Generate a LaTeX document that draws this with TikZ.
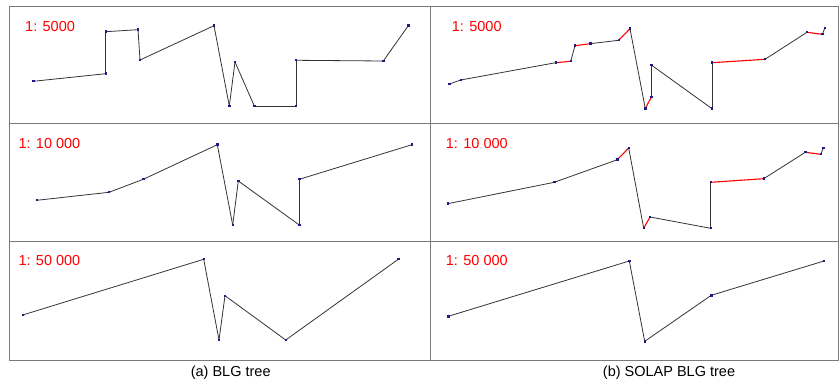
\documentclass[tikz,border=0pt]{standalone}
\usepackage{fontspec}
\setmainfont{Liberation Sans}
\usetikzlibrary{backgrounds}
\definecolor{cframe}{HTML}{7A7A7A}
\definecolor{cline}{HTML}{333333}
\definecolor{cred}{HTML}{FF0000}
\definecolor{cnavy}{HTML}{1A1A8C}
\tikzset{
  every picture/.style={x=1pt, y=-1pt},
  frame/.style={draw=cframe, line width=1pt},
  vtx/.style={rectangle, fill=cnavy, inner sep=0pt, minimum size=2.4pt},
  seg/.style={draw=cline, line width=0.8pt},
  redseg/.style={draw=cred, line width=1.1pt},
  scale label/.style={font=\fontsize{14.5}{16}\selectfont, text=cred, anchor=west, inner sep=0pt},
  caption/.style={font=\fontsize{14.5}{16}\selectfont, inner sep=0pt},
}

\begin{document}
\begin{tikzpicture}
  \useasboundingbox (0,0) rectangle (840,387);
  % grid of panels
  \draw[frame] (9,7) rectangle (838,360);
  \draw[frame] (430,7) -- (430,360);
  \draw[frame] (9,124) -- (838,124);
  \draw[frame] (9,242) -- (838,242);
  % (a) 1: 5000
  \node[scale label] (la1) at (25,27) {1: 5000};
  \foreach \k/\x/\y in {1/33.3/81.3, 2/105.7/73.7, 3/105.7/31.7, 4/138/29.7, 5/140/60, 6/214/25.7, 7/229.3/106, 8/235/62, 9/254.3/106, 10/296/106, 11/296/60.3, 12/383.3/61, 13/408.3/25.7} \node[vtx] (a1-\k) at (\x,\y) {};
  \begin{scope}[on background layer]
    \foreach \k [evaluate=\k as \n using int(\k+1)] in {1,...,12} \draw[seg] (a1-\k.center) -- (a1-\n.center);
  \end{scope}
  % (b) 1: 5000
  \node[scale label] (lb1) at (451.7,27) {1: 5000};
  \foreach \k/\x/\y in {1/449.3/84, 2/460.7/80, 3/555.7/62.7, 4/570.7/61.3, 5/575/45.7, 6/590.3/43.7, 7/618.7/40.3, 8/630/28.7, 9/645.3/108.7, 10/651.3/97, 11/651.3/65, 12/712/108.7, 13/712/62.7, 14/765/59.3, 15/807/32.3, 16/822.3/34.3, 17/824.7/28.3} \node[vtx] (b1-\k) at (\x,\y) {};
  \begin{scope}[on background layer]
    \foreach \k/\s [evaluate=\k as \n using int(\k+1)] in {1/seg, 2/seg, 3/redseg, 4/seg, 5/redseg, 6/seg, 7/redseg, 8/seg, 9/redseg, 10/seg, 11/seg, 12/seg, 13/redseg, 14/seg, 15/redseg, 16/seg} \draw[\s] (b1-\k.center) -- (b1-\n.center);
  \end{scope}
  % (a) 1: 10 000
  \node[scale label] (la2) at (18.3,143.3) {1: 10 000};
  \foreach \k/\x/\y in {1/36.7/200.3, 2/109/192.3, 3/143.3/179.3, 4/217.3/144.7, 5/232.7/225, 6/238.3/181, 7/299.3/225, 8/299.3/179.3, 9/412/144.7} \node[vtx] (a2-\k) at (\x,\y) {};
  \begin{scope}[on background layer]
    \foreach \k [evaluate=\k as \n using int(\k+1)] in {1,...,8} \draw[seg] (a2-\k.center) -- (a2-\n.center);
  \end{scope}
  % (b) 1: 10 000
  \node[scale label] (lb2) at (445.7,143.3) {1: 10 000};
  \foreach \k/\x/\y in {1/447.7/203.7, 2/554.3/182.3, 3/617.3/159.7, 4/628.7/148, 5/643.7/228.3, 6/650/217, 7/710.7/228.3, 8/710.7/182.3, 9/763.7/178.7, 10/805.3/152.3, 11/820.7/154.3, 12/823.3/148} \node[vtx] (b2-\k) at (\x,\y) {};
  \begin{scope}[on background layer]
    \foreach \k/\s [evaluate=\k as \n using int(\k+1)] in {1/seg, 2/seg, 3/redseg, 4/seg, 5/redseg, 6/seg, 7/seg, 8/redseg, 9/seg, 10/redseg, 11/seg} \draw[\s] (b2-\k.center) -- (b2-\n.center);
  \end{scope}
  % (a) 1: 50 000
  \node[scale label] (la3) at (18.3,261) {1: 50 000};
  \foreach \k/\x/\y in {1/22.7/315, 2/203.7/259.3, 3/219/340, 4/225/295.7, 5/285.7/340, 6/398.3/259.3} \node[vtx] (a3-\k) at (\x,\y) {};
  \begin{scope}[on background layer]
    \foreach \k [evaluate=\k as \n using int(\k+1)] in {1,...,5} \draw[seg] (a3-\k.center) -- (a3-\n.center);
  \end{scope}
  % (b) 1: 50 000
  \node[scale label] (lb3) at (445.7,261) {1: 50 000};
  \foreach \k/\x/\y in {1/448.3/316.3, 2/629.3/261, 3/644.7/341.3, 4/711.3/295.3, 5/824/261} \node[vtx] (b3-\k) at (\x,\y) {};
  \begin{scope}[on background layer]
    \foreach \k [evaluate=\k as \n using int(\k+1)] in {1,...,4} \draw[seg] (b3-\k.center) -- (b3-\n.center);
  \end{scope}
  % captions
  \node[caption] (capa) at (230.7,373) {(a) BLG tree};
  \node[caption] (capb) at (669,373) {(b) SOLAP BLG tree};
\end{tikzpicture}
\end{document}
